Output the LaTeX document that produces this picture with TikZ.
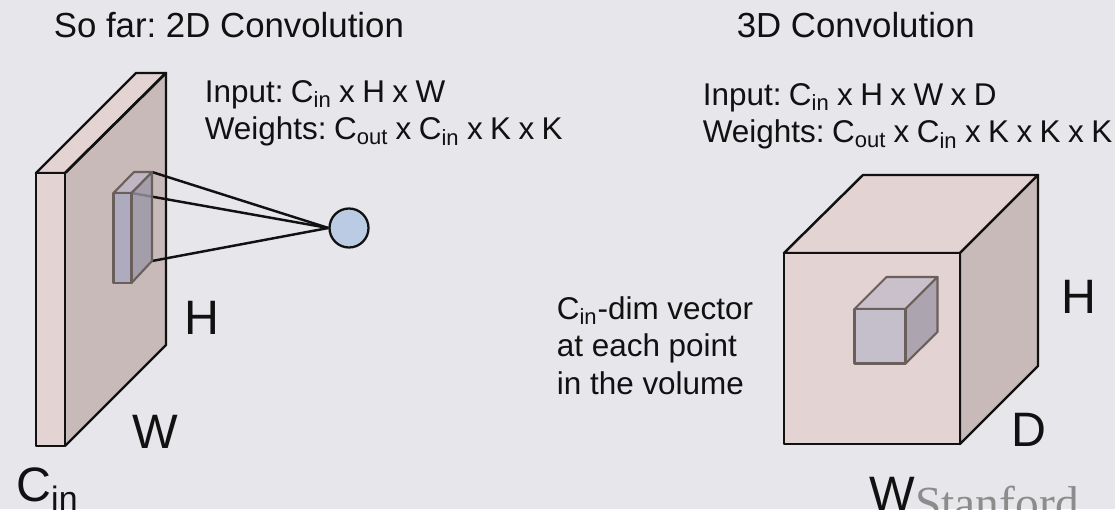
\documentclass[tikz,border=0pt]{standalone}
\usepackage{fontspec}
\setmainfont{Liberation Sans}
\newfontfamily\logofont{Liberation Serif}
\newfontfamily\infofont[WordSpace=0.85]{Liberation Sans}
\definecolor{slidebg}{HTML}{E6E6EB}
\definecolor{frontfill}{HTML}{E3D3D2}
\definecolor{sidefill}{HTML}{C8BAB9}
\definecolor{kernelfront}{HTML}{C5BECB}
\definecolor{kerneltop}{HTML}{C9C0CC}
\definecolor{kernelside}{HTML}{ACA4AF}
\definecolor{filterfront}{HTML}{AEABBE}
\definecolor{filtertop}{HTML}{BDB5C6}
\definecolor{filterside}{HTML}{9B98A8}
\definecolor{neuronfill}{HTML}{BBCBE3}
\definecolor{kernelborder}{HTML}{6B5F5B}
\definecolor{darkline}{HTML}{111111}
\definecolor{logogray}{HTML}{8C8C8C}
\frenchspacing
\tikzset{
  face/.style={draw=darkline, line width=1.4pt, line join=round},
  kernelface/.style={draw=kernelborder, line width=1.2pt, line join=round},
  caption/.style={inner sep=0pt, anchor=base west, text=darkline, font=\fontsize{19.8}{22}\selectfont},
  shapeinfo/.style={inner sep=0pt, anchor=north west, align=left, text=darkline, font=\infofont\fontsize{17.9}{21.3}\selectfont},
  dimlabel/.style={inner sep=0pt, anchor=base west, text=darkline, font=\fontsize{27.5}{30}\selectfont},
  neuron/.style={circle, fill=neuronfill, draw=darkline, line width=1.3pt, minimum size=0.78cm, inner sep=0pt},
  wire/.style={draw=darkline, line width=1.4pt}
}

\begin{document}
\begin{tikzpicture}

\useasboundingbox (0,0) rectangle (22.3,10.18);
\fill[slidebg] (0,0) rectangle (22.3,10.18);

% Titles.
\node[caption] (title2d) at (1.07,9.42) {So far: 2D Convolution};
\node[caption] (title3d) at (14.73,9.42) {3D Convolution};

% Shapes.
\node[shapeinfo] (info2d) at (4.09,8.58) {Input: C\textsubscript{in} x H x W\\Weights: C\textsubscript{out} x C\textsubscript{in} x K x K};
\node[shapeinfo] (info3d) at (14.05,8.52) {Input: C\textsubscript{in} x H x W x D\\Weights: C\textsubscript{out} x C\textsubscript{in} x K x K x K};
\node[shapeinfo, font=\fontsize{17.9}{21.3}\selectfont] (volumenote) at (11.13,4.26) {C\textsubscript{in}-dim vector\\at each point\\in the volume};

% Input plate.
\fill[sidefill] (1.3,6.72) -- (3.32,8.72) -- (3.32,3.28) -- (1.3,1.26) -- cycle;
\draw[face, fill=frontfill] (0.72,6.72) -- (2.72,8.72) -- (3.32,8.72) -- (1.3,6.72) -- cycle;
\draw[face, fill=frontfill] (0.72,1.26) rectangle (1.3,6.72);
\draw[face] (1.3,6.72) -- (3.32,8.72) -- (3.32,3.28) -- (1.3,1.26);

% Filter and its output.
\coordinate (filtertop) at (3.04,6.74);
\coordinate (filtermid) at (2.63,6.32);
\coordinate (filterlow) at (3.04,4.96);
\node[neuron] (output) at (6.98,5.62) {};
\draw[wire] (output.west) -- (filtertop);
\draw[wire] (output.west) -- (filtermid);
\draw[wire] (output.west) -- (filterlow);
\draw[kernelface, fill=filterside, fill opacity=0.8] (filtermid) -- (filtertop) -- (filterlow) -- (2.63,4.52) -- cycle;
\draw[kernelface, fill=filtertop, fill opacity=0.8] (2.27,6.32) -- (2.68,6.74) -- (filtertop) -- (filtermid) -- cycle;
\draw[kernelface, fill=filterfront] (2.27,4.52) rectangle (filtermid);

% Input volume.
\draw[face, fill=frontfill] (15.68,5.12) -- (17.26,6.68) -- (20.76,6.68) -- (19.2,5.12) -- cycle;
\draw[face, fill=sidefill] (19.2,5.12) -- (20.76,6.68) -- (20.76,2.86) -- (19.2,1.3) -- cycle;
\draw[face, fill=frontfill] (15.68,1.3) rectangle (19.2,5.12);

% 3D kernel.
\draw[kernelface, fill=kerneltop] (17.09,4.0) -- (17.73,4.64) -- (18.75,4.64) -- (18.11,4.0) -- cycle;
\draw[kernelface, fill=kernelside] (18.11,4.0) -- (18.75,4.64) -- (18.75,3.54) -- (18.11,2.91) -- cycle;
\draw[kernelface, fill=kernelfront] (17.09,2.91) rectangle (18.11,4.0);

% Dimension labels.
\node[dimlabel] (h2d) at (3.68,3.5) {H};
\node[dimlabel] (w2d) at (2.65,1.22) {W};
\node[dimlabel] (c2d) at (0.32,0.16) {C\textsubscript{in}};
\node[dimlabel] (h3d) at (21.22,3.92) {H};
\node[dimlabel] (d3d) at (20.22,1.26) {D};
\node[dimlabel] (w3d) at (17.38,-0.02) {W};

% Logo.
\node[inner sep=0pt, anchor=base west, text=logogray, font=\logofont\fontsize{27}{30}\selectfont] (logo) at (18.3,-0.2) {Stanford};

\end{tikzpicture}
\end{document}
